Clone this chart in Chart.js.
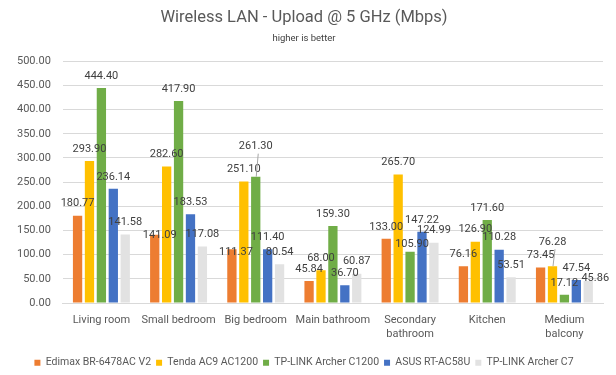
<!DOCTYPE html>
<html>
<head>
<meta charset="utf-8">
<script src="https://cdn.jsdelivr.net/npm/chart.js@4/dist/chart.umd.min.js"></script>
<style>
  html,body{margin:0;padding:0;background:#fff;}
  #wrap{width:616px;height:375px;}
</style>
</head>
<body>
<div id="wrap"><canvas id="chart" width="616" height="375"></canvas></div>
<script>

/* =========================================
   DATA
========================================= */

const rooms = [
  'Living room',
  'Small bedroom',
  'Big bedroom',
  'Main bathroom',
  ['Secondary','bathroom'],
  'Kitchen',
  ['Medium','balcony']
];

const edimax   = [180.77, 141.09, 111.37, 45.84, 133.00, 76.16, 73.45];
const tenda    = [293.90, 282.60, 251.10, 68.00, 265.70, 126.90, 76.28];
const archer12 = [444.40, 417.90, 261.30, 159.30, 105.90, 171.60, 17.12];
const asus     = [236.14, 183.53, 111.40, 36.70, 147.22, 110.28, 47.54];
const archerC7 = [141.58, 117.08, 80.54, 60.87, 124.99, 53.51, 45.86];

const yTicks = [0, 50, 100, 150, 200, 250, 300, 350, 400, 450, 500];

const FONT = 'Roboto, "Liberation Sans", sans-serif';
const TXT  = '#595959';


/* =========================================
   LABELS ABOVE BARS
   (excel moved a few of them to avoid overlap)
========================================= */

// "dataset,index" -> [dx, dy, leaderLine]
const labelNudge = {
  '0,1':[5,12,false],
  '0,2':[4,15,false],
  '2,2':[0,-18,true],
  '2,4':[2,4,false],
  '1,6':[0,-12,true],
  '4,6':[7,9,false]
};

const valueLabels = {
  id:'valueLabels',
  afterDatasetsDraw(chart){
    const ctx = chart.ctx;
    ctx.save();
    ctx.font = '11px ' + FONT;
    ctx.textAlign = 'center';
    ctx.textBaseline = 'middle';
    chart.data.datasets.forEach((ds,i)=>{
      const meta = chart.getDatasetMeta(i);
      meta.data.forEach((bar,j)=>{
        const n = labelNudge[i+','+j] || [0,0,false];
        const x = bar.x + n[0];
        const y = bar.y - 12 + n[1];
        if(n[2]){
          ctx.strokeStyle = '#A6A6A6';
          ctx.lineWidth = 1;
          ctx.beginPath();
          ctx.moveTo(x + 2.5, y + 7);
          ctx.lineTo(bar.x + 0.5, bar.y);
          ctx.stroke();
        }
        ctx.fillStyle = '#404040';
        ctx.fillText(ds.data[j].toFixed(2), x, y);
      });
    });
    ctx.restore();
  }
};


/* =========================================
   CHART
========================================= */

new Chart(document.getElementById('chart'),{

  type:'bar',

  data:{
    labels:rooms,
    datasets:[
      {label:'Edimax BR-6478AC V2', data:edimax,   backgroundColor:'#ED7D31'},
      {label:'Tenda AC9 AC1200',    data:tenda,    backgroundColor:'#FFC000'},
      {label:'TP-LINK Archer C1200',data:archer12, backgroundColor:'#70AD47'},
      {label:'ASUS RT-AC58U',       data:asus,     backgroundColor:'#4472C4'},
      {label:'TP-LINK Archer C7',   data:archerC7, backgroundColor:'#E2E2E2'}
    ]
  },

  options:{
    responsive:false,
    animation:false,
    layout:{padding:{left:5,right:13,top:6,bottom:-3}},
    datasets:{
      bar:{categoryPercentage:0.772, barPercentage:0.78}
    },
    plugins:{
      title:{
        display:true,
        text:'Wireless LAN - Upload @ 5 GHz (Mbps)',
        color:TXT,
        font:{family:FONT,size:16.5,weight:'normal'},
        padding:{top:2,bottom:5}
      },
      subtitle:{
        display:true,
        text:'higher is better',
        color:'#404040',
        font:{family:FONT,size:9.5},
        padding:{bottom:17}
      },
      legend:{
        position:'bottom',
        labels:{
          color:TXT,
          font:{family:FONT,size:10.5},
          boxWidth:6,
          boxHeight:6,
          padding:5
        }
      },
      tooltip:{enabled:false}
    },
    scales:{
      x:{
        grid:{display:false},
        border:{color:'#D9D9D9'},
        ticks:{color:TXT,font:{family:FONT,size:11},maxRotation:0,autoSkip:false},
        afterFit(scale){
          scale.height += 9;
        }
      },
      y:{
        min:0,
        max:500,
        afterBuildTicks(axis){
          axis.ticks = yTicks.map(v=>({value:v}));
        },
        grid:{color:'#D9D9D9',drawTicks:false},
        border:{display:false},
        ticks:{
          color:TXT,
          font:{family:FONT,size:11},
          padding:12,
          callback:v=>v.toFixed(2)
        }
      }
    }
  },

  plugins:[valueLabels]

});

</script>
</body>
</html>
